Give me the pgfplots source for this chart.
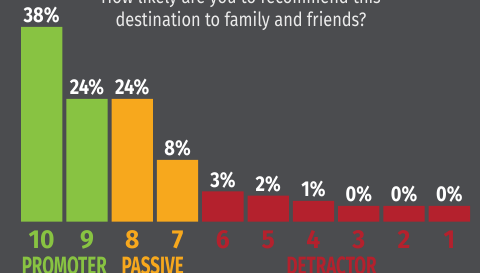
\documentclass[border=0pt]{standalone}
\usepackage{pgfplots}
\pgfplotsset{compat=1.18}
\usepackage{pgfplotstable}
\usepackage{fontspec}
\setmainfont{Fira Sans}
\newfontfamily\pctfont{Fira Sans}[FakeStretch=0.85]
\newfontfamily\numfont{Fira Sans}[FakeStretch=0.95]
\newfontfamily\catfont{Fira Sans}[FakeStretch=0.68]
\newfontfamily\titlefont{Fira Sans}[FakeStretch=0.84]
\definecolor{bg}{RGB}{75,76,79}
\definecolor{npsgreen}{RGB}{136,195,66}
\definecolor{npsorange}{RGB}{247,168,29}
\definecolor{npsred}{RGB}{180,33,45}
\definecolor{titlegray}{RGB}{235,235,235}
% x = position (score 10 ... 1), h = drawn bar height, p = percentage shown
\pgfplotstableread{
x h p
0 194.7 38
1 122.7 24
}\promoters
\pgfplotstableread{
x h p
2 122.7 24
3 61.7 8
}\passives
\pgfplotstableread{
x h p
4 30.4 3
5 26.0 2
6 20.7 1
7 15.7 0
8 15.7 0
9 15.7 0
}\detractors
\begin{document}
\begin{tikzpicture}
\useasboundingbox (0,0) rectangle (480pt,273pt);
\fill[bg] (0,0) rectangle (480pt,273pt);
\begin{axis}[
  at={(19pt,51.3pt)}, anchor=south west,
  scale only axis, width=453pt, height=221.7pt,
  xmin=-0.5, xmax=9.5, ymin=0, ymax=221.7,
  clip=false,
  axis line style={draw=none},
  ymajorticks=false,
  major tick length=0pt,
  xtick={0,...,9},
  xticklabels={\textcolor{npsgreen}{10},\textcolor{npsgreen}{9},\textcolor{npsorange}{8},\textcolor{npsorange}{7},\textcolor{npsred}{6},\textcolor{npsred}{5},\textcolor{npsred}{4},\textcolor{npsred}{3},\textcolor{npsred}{2},\textcolor{npsred}{1}},
  xticklabel style={anchor=base, yshift=-27.3pt, inner sep=0pt, font=\numfont\bfseries\fontsize{26}{26}\selectfont},
  ybar, bar width=41.3pt, bar shift=0pt,
  point meta=explicit symbolic,
  nodes near coords={\pgfplotspointmeta\%},
  every node near coord/.append style={anchor=base, yshift=4pt, inner sep=0pt, text=white, font=\pctfont\bfseries\fontsize{21.5}{21.5}\selectfont},
]
\addplot[fill=npsgreen, draw=none] table[x=x, y=h, meta=p] {\promoters};
\addplot[fill=npsorange, draw=none] table[x=x, y=h, meta=p] {\passives};
\addplot[fill=npsred, draw=none] table[x=x, y=h, meta=p] {\detractors};
\node[anchor=base, inner sep=0pt, text=npsgreen, font=\catfont\bfseries\fontsize{25}{25}\selectfont] at (axis cs:0.5,-52.8) {PROMOTER};
\node[anchor=base, inner sep=0pt, text=npsorange, font=\catfont\bfseries\fontsize{25}{25}\selectfont] at (axis cs:2.45,-52.8) {PASSIVE};
\node[anchor=base, inner sep=0pt, text=npsred, font=\catfont\bfseries\fontsize{25}{25}\selectfont] at (axis cs:6.4,-52.8) {DETRACTOR};
\end{axis}
\node[anchor=base, inner sep=0pt, text=titlegray, font=\titlefont\fontsize{19.5}{19.5}\selectfont] at (241pt,269pt) {How likely are you to recommend this};
\node[anchor=base, inner sep=0pt, text=titlegray, font=\titlefont\fontsize{19.5}{19.5}\selectfont] at (241pt,246pt) {destination to family and friends?};
\end{tikzpicture}
\end{document}
